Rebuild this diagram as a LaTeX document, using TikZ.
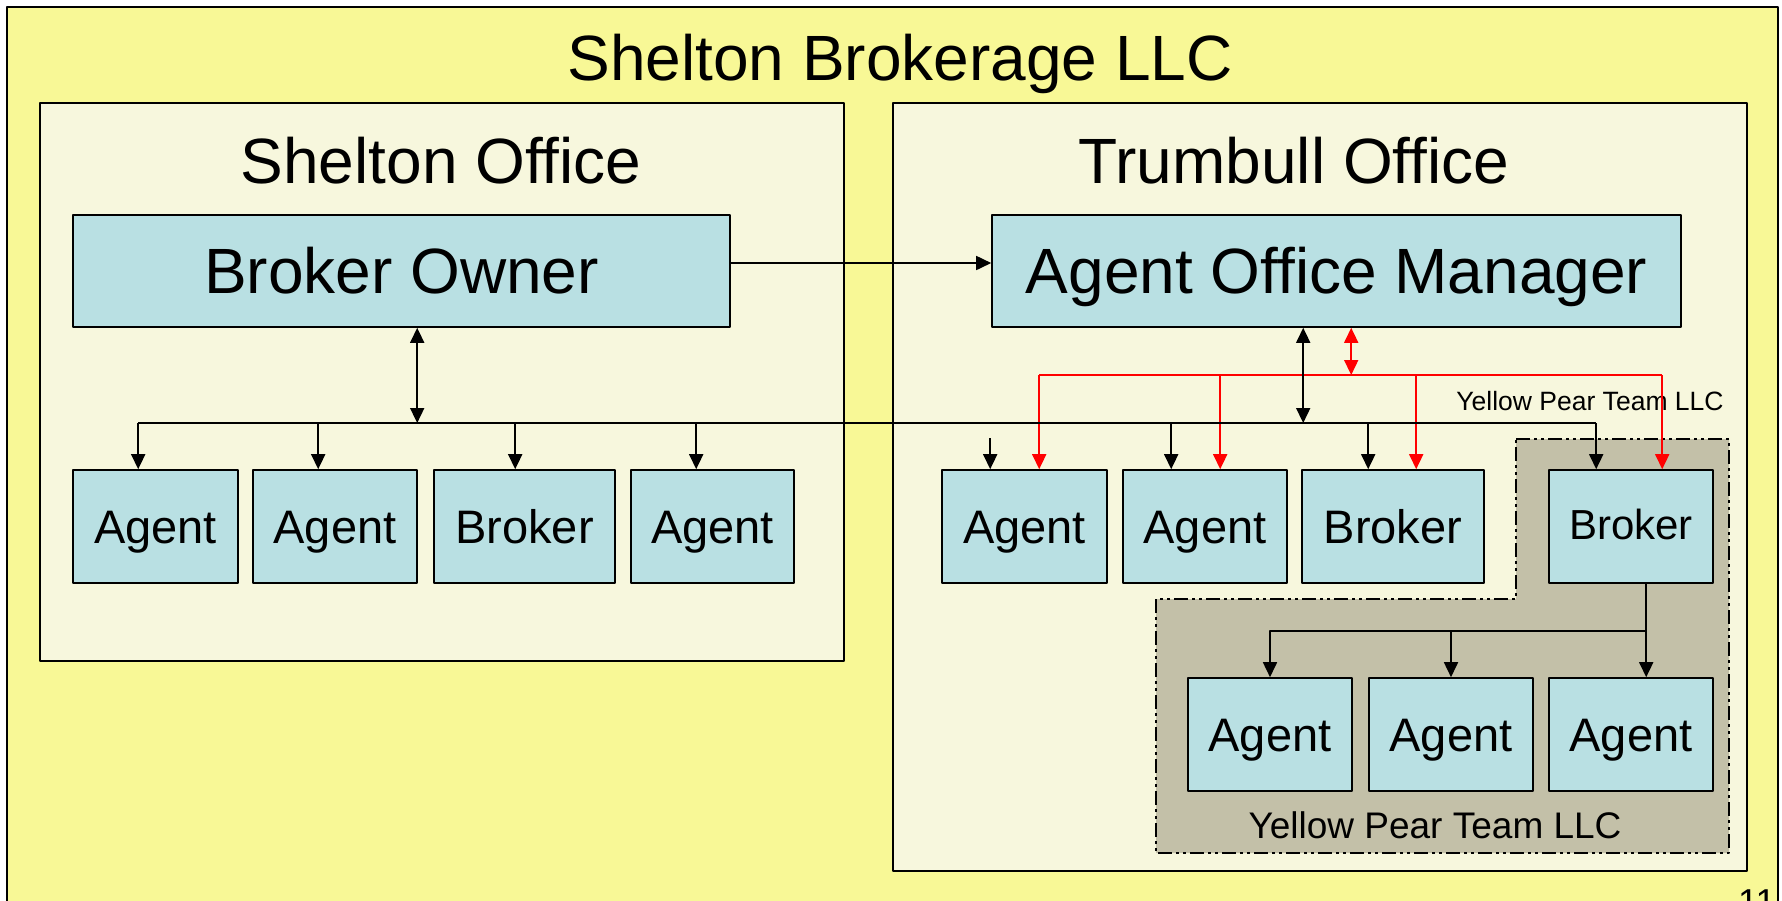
\documentclass[tikz,border=0pt]{standalone}
\usepackage{fontspec}
\setmainfont{Liberation Sans}
\usetikzlibrary{arrows.meta,calc}
\definecolor{nenvang}{RGB}{248,248,150}
\definecolor{nenvp}{RGB}{247,247,221}
\definecolor{xanhhop}{RGB}{185,224,227}
\definecolor{nhomyp}{RGB}{195,192,168}
\tikzset{
  hop/.style={draw, line width=1.6pt, fill=xanhhop, inner sep=0pt, minimum height=113pt,
    text height=33.7pt, text depth=0pt, font=\fontsize{47}{50}\selectfont},
  hoplon/.style={hop, minimum height=112pt, text height=45.8pt, font=\fontsize{64}{70}\selectfont},
  vanphong/.style={draw, line width=1.8pt, fill=nenvp},
  chu/.style={inner sep=0pt, text depth=0pt},
  noi/.style={line width=1.7pt},
  noido/.style={line width=1.7pt, red},
}
\begin{document}
\begin{tikzpicture}[x=1pt, y=-1pt, line join=round, >={Triangle[width=14pt,length=15pt]}]
	\useasboundingbox (0,0) rectangle (1782,900);
	\clip (0,0) rectangle (1782,900);
	% Khung ngoài
	\draw[line width=2pt, fill=nenvang] (7,7) rectangle (1778,940);
	\node[anchor=base, inner sep=0pt, font=\fontsize{64}{70}\selectfont] (tieude) at (900,80) {Shelton Brokerage LLC};
	\node[chu, anchor=north west, text height=25.8pt, font=\fontsize{36}{40}\selectfont] (trang) at (1738,888) {11};
	
	% Hai văn phòng
	\draw[vanphong] (40,103) rectangle (844,661);
	\draw[vanphong] (893,103) rectangle (1747,871);
	\node[anchor=base, inner sep=0pt, font=\fontsize{64}{70}\selectfont] (vp1) at (441,183) {Shelton Office};
	\node[anchor=base, inner sep=0pt, font=\fontsize{64}{70}\selectfont] (vp2) at (1294,183) {Trumbull Office};
	
	% Nhóm Yellow Pear
	\fill[nhomyp] (1516,439) -- (1729,439) -- (1729,853) -- (1156,853) -- (1156,599) -- (1516,599) -- cycle;
	\draw[line width=1.6pt, dash pattern=on 14pt off 4pt on 3pt off 4pt on 3pt off 4pt]
		(1516,439) -- (1729,439) -- (1729,853) -- (1156,853) -- (1156,599) -- (1516,599) -- cycle;
	\node[chu, text height=26.5pt, font=\fontsize{37}{40}\selectfont] (yp) at (1435,825) {Yellow Pear Team LLC};
	\node[chu, text height=19pt, font=\fontsize{26.5}{30}\selectfont] (yp2) at (1590,401) {Yellow Pear Team LLC};
	
	% Các hộp
	\node[hoplon, minimum width=657pt] (bo) at (401.5,271) {Broker Owner};
	\node[hoplon, minimum width=689pt] (aom) at (1336.5,271) {Agent Office Manager};
	\foreach \ten/\cx/\w/\nhan in {sa1/155.5/165/Agent, sa2/335/164/Agent, sb/524.5/181/Broker, sa3/712.5/163/Agent,
		ta1/1024.5/165/Agent, ta2/1205/164/Agent, tb/1393/182/Broker}
		\node[hop, minimum width=\w pt] (\ten) at (\cx,526.5) {\nhan};
	\node[hop, minimum width=164pt, text height=30pt, text depth=5pt, font=\fontsize{42}{46}\selectfont] (yb) at (1631,526.5) {Broker};
	\foreach \ten/\cx in {ya1/1270, ya2/1451, ya3/1631}
		\node[hop, minimum width=164pt] (\ten) at (\cx,734.5) {Agent};
	
	% Điểm nối
	\foreach \ten/\dx in {sa1/66, sa2/66, sb/82, sa3/66, ta1/49, ta2/49, tb/67, yb/48}
		\path (\ten.north west) ++(\dx,0) coordinate (\ten-vao);
	\foreach \ten/\dx in {ta1/98, ta2/98, tb/115, yb/114}
		\path (\ten.north west) ++(\dx,0) coordinate (\ten-do);
	\path (bo.south west) ++(345,0) coordinate (bo-ra);
	\path (aom.south west) ++(312,0) coordinate (aom-ra);
	\path (aom.south west) ++(360,0) coordinate (aom-do);
	\path (yb.south west) ++(98,0) coordinate (yb-ra);
	\coordinate (truc) at (0,423);
	\coordinate (trucdo) at (0,375);
	\coordinate (truc2) at (0,631);
	
	% Đường đỏ
	\draw[noido] (ta1-do |- trucdo) -- (yb-do |- trucdo);
	\foreach \ten in {ta1,ta2,tb,yb}
		\draw[noido, ->] (\ten-do |- trucdo) -- (\ten-do);
	\draw[noido, <->] (aom-do) -- (aom-do |- trucdo);
	
	% Đường đen
	\draw[noi, ->] ([yshift=8pt]bo.east) -- ([yshift=8pt]aom.west);
	\draw[noi] (sa1-vao |- truc) -- (yb-vao |- truc);
	\foreach \ten in {sa1,sa2,sb,sa3,ta2,tb,yb}
		\draw[noi, ->] (\ten-vao |- truc) -- (\ten-vao);
	\draw[noi, ->] ($(ta1-vao)+(0,-31)$) -- (ta1-vao);
	\draw[noi, <->] (bo-ra) -- (bo-ra |- truc);
	\draw[noi, <->] (aom-ra) -- (aom-ra |- truc);
	\draw[noi, ->] (yb-ra) -- (yb-ra |- ya3.north);
	\draw[noi, ->] (yb-ra |- truc2) -| (ya1.north);
	\draw[noi, ->] (ya2.north |- truc2) -- (ya2.north);
\end{tikzpicture}
\end{document}
